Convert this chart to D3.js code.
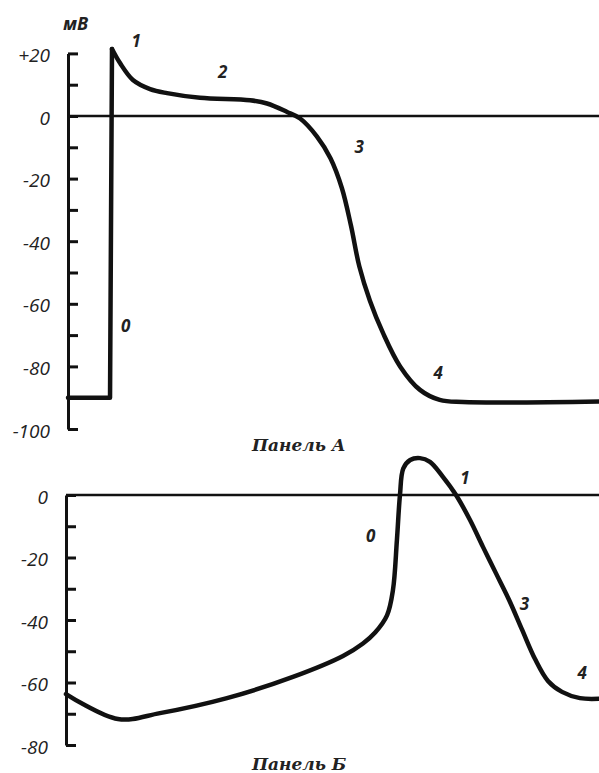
<!DOCTYPE html>
<html lang="ru">
<head>
  <meta charset="UTF-8">
  <title>Потенциал действия</title>
  <script src="https://d3js.org/d3.v7.min.js"></script>
  <style>
    * { margin: 0; padding: 0; box-sizing: border-box; }
    body { background: #fff; }
    .tick-label { font-family: "Open Sans", sans-serif; font-style: italic; font-size: 19px; fill: #222; }
    .phase { font-family: "Open Sans", sans-serif; font-style: italic; font-weight: 700; font-size: 17px; fill: #222; }
    .panel { font-family: "DejaVu Serif", serif; font-style: italic; font-weight: 700; font-size: 17px; fill: #222; }
  </style>
</head>
<body>
  <div id="chart"></div>
  <script>
    // Панель А: время (мс, условно) и мембранный потенциал (мВ)
    const upA_t = [0, 27.7, 29];
    const upA_v = [-90, -90, 21.4];
    const repA_t = [29, 34.3, 42.8, 54.1, 65.3, 87, 120, 131.2, 144.4, 153, 164, 173, 180.5, 186.5, 192, 199, 207.6, 218.9, 232, 245, 260.4, 350];
    const repA_v = [21.4, 16.9, 11.5, 8.6, 7.3, 5.8, 5.0, 4.0, 1.3, -0.8, -6.5, -13.5, -23, -35, -48, -59, -69.3, -80, -87.5, -90.7, -91.4, -91.2];
    const ticksA = d3.range(-100, 21, 10);
    const labelsA = [20, 0, -20, -40, -60, -80, -100];
    const phasesA = [
      {t: "1", x: 45, v: 24},
      {t: "2", x: 102, v: 14},
      {t: "3", x: 192, v: -10},
      {t: "0", x: 38, v: -67},
      {t: "4", x: 244, v: -82}
    ];

    // Панель Б
    const curveB_t = [0, 34.1, 61.7, 105.7, 149, 181.9, 195, 203, 210.8, 214.7, 217.3, 219.3, 221.5, 226, 232.4, 239, 247.5, 256.1, 265.3, 273.8, 282.3, 290.9, 299.4, 308, 316.5, 325.7, 337.5, 350];
    const curveB_v = [-63.7, -71.7, -69.8, -65, -58.2, -51.5, -47.5, -44, -38.5, -30.4, -14.4, 0, 8.5, 11.2, 11.8, 10.6, 5.8, 0, -8, -16.6, -25, -33.5, -43, -52.5, -59.5, -63, -65, -65.2];
    const ticksB = d3.range(-80, 1, 10);
    const labelsB = [0, -20, -40, -60, -80];
    const phasesB = [
      {t: "0", x: 200, v: -13},
      {t: "1", x: 262, v: 5.5},
      {t: "3", x: 301, v: -35},
      {t: "4", x: 339, v: -57}
    ];

    const W = 599, H = 773;
    const svg = d3.select("#chart").append("svg")
      .attr("width", W).attr("height", H);

    function panel(opts) {
      const x = d3.scaleLinear().domain([0, 350]).range([opts.x0, W]);
      const y = d3.scaleLinear().domain(opts.ydom).range(opts.yrange);
      const g = svg.append("g");

      // ось с засечками вправо
      const ax = g.append("g")
        .attr("transform", `translate(${opts.x0},0)`)
        .call(d3.axisRight(y).tickValues(opts.ticks).tickSize(10).tickSizeOuter(0).tickFormat(""));
      ax.selectAll("path, line").attr("stroke", "#111").attr("stroke-width", 3);

      // подписи делений
      const lab = g.append("g")
        .attr("transform", `translate(${opts.x0 - 15},2)`)
        .call(d3.axisLeft(y).tickValues(opts.labels).tickSize(0)
          .tickFormat(d => d > 0 ? "+" + d : d));
      lab.select(".domain").remove();
      lab.selectAll("text").attr("class", "tick-label").attr("font-size", null).attr("font-family", null);

      // нулевая линия
      g.append("line")
        .attr("x1", opts.x0).attr("x2", W)
        .attr("y1", y(0)).attr("y2", y(0))
        .attr("stroke", "#111").attr("stroke-width", 2.6);

      opts.curves.forEach(c => {
        const pts = c.t.map((t, i) => [t, c.v[i]]);
        g.append("path")
          .attr("d", d3.line().x(d => x(d[0])).y(d => y(d[1])).curve(c.curve)(pts))
          .attr("fill", "none")
          .attr("stroke", "#111")
          .attr("stroke-width", 4.5)
          .attr("stroke-linejoin", "round")
          .attr("stroke-linecap", "round");
      });

      g.selectAll(".phase")
        .data(opts.phases)
        .enter().append("text")
        .attr("class", "phase")
        .attr("x", d => x(d.x))
        .attr("y", d => y(d.v))
        .attr("text-anchor", "middle")
        .attr("dy", "0.35em")
        .text(d => d.t);

      g.append("text")
        .attr("class", "panel")
        .attr("x", 252).attr("y", opts.titleY)
        .text(opts.title);
    }

    panel({
      x0: 68, ydom: [-100, 20], yrange: [429, 53.4],
      ticks: ticksA, labels: labelsA, phases: phasesA,
      curves: [
        {t: upA_t, v: upA_v, curve: d3.curveLinear},
        {t: repA_t, v: repA_v, curve: d3.curveCatmullRom.alpha(0.5)}
      ],
      title: "Панель А", titleY: 451
    });

    panel({
      x0: 66, ydom: [-80, 0], yrange: [745, 495],
      ticks: ticksB, labels: labelsB, phases: phasesB,
      curves: [{t: curveB_t, v: curveB_v, curve: d3.curveCatmullRom.alpha(0.5)}],
      title: "Панель Б", titleY: 770
    });

    svg.append("text")
      .attr("class", "phase")
      .style("font-size", "18px")
      .attr("x", 63).attr("y", 30)
      .text("мВ");
  </script>
</body>
</html>
